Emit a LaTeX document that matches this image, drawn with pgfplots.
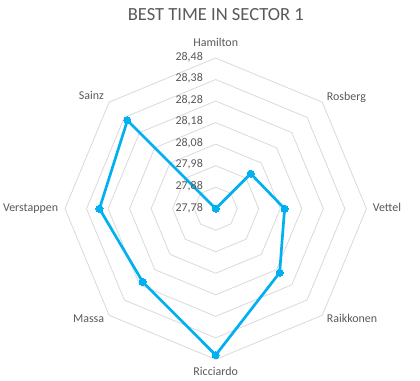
\documentclass[border=0pt]{standalone}
\usepackage{fontspec}
\setmainfont{Carlito}
\usepackage{pgfplots}
\usepackage{pgfplotstable}
\usepgfplotslibrary{polar}
\pgfplotsset{compat=1.18}
\definecolor{txt}{HTML}{595959}
\definecolor{gridc}{HTML}{D9D9D9}
\definecolor{linec}{HTML}{00B0F0}
\pgfplotstableread{
angle t name
90 27.78 Hamilton
45 28.01 Rosberg
0 28.10 Vettel
-45 28.20 Raikkonen
-90 28.46 Ricciardo
-135 28.26 Massa
-180 28.32 Verstappen
-225 28.36 Sainz
-270 27.78 Hamilton
}\datatable
\begin{document}
\begin{tikzpicture}[x=1bp,y=1bp]
\useasboundingbox (0,0) rectangle (420,381);
\begin{polaraxis}[
  at={(215.7bp,172.3bp)}, anchor=center,
  width=301.4bp, height=301.4bp, scale only axis,
  hide axis, clip=false,
  xmin=0, xmax=360, ymin=0, ymax=0.7,
]
\addplot[gridc, line width=0.8pt] coordinates {(90,0.1) (45,0.1) (0,0.1) (-45,0.1) (-90,0.1) (-135,0.1) (-180,0.1) (-225,0.1) (-270,0.1)};
\addplot[gridc, line width=0.8pt] coordinates {(90,0.2) (45,0.2) (0,0.2) (-45,0.2) (-90,0.2) (-135,0.2) (-180,0.2) (-225,0.2) (-270,0.2)};
\addplot[gridc, line width=0.8pt] coordinates {(90,0.3) (45,0.3) (0,0.3) (-45,0.3) (-90,0.3) (-135,0.3) (-180,0.3) (-225,0.3) (-270,0.3)};
\addplot[gridc, line width=0.8pt] coordinates {(90,0.4) (45,0.4) (0,0.4) (-45,0.4) (-90,0.4) (-135,0.4) (-180,0.4) (-225,0.4) (-270,0.4)};
\addplot[gridc, line width=0.8pt] coordinates {(90,0.5) (45,0.5) (0,0.5) (-45,0.5) (-90,0.5) (-135,0.5) (-180,0.5) (-225,0.5) (-270,0.5)};
\addplot[gridc, line width=0.8pt] coordinates {(90,0.6) (45,0.6) (0,0.6) (-45,0.6) (-90,0.6) (-135,0.6) (-180,0.6) (-225,0.6) (-270,0.6)};
\addplot[gridc, line width=0.8pt] coordinates {(90,0.7) (45,0.7) (0,0.7) (-45,0.7) (-90,0.7) (-135,0.7) (-180,0.7) (-225,0.7) (-270,0.7)};
\addplot[linec, line width=2.7pt, line join=round, mark=*, mark size=3.6pt, mark options={solid, fill=linec, draw=linec, line width=0pt}]
  table[x=angle, y expr=\thisrow{t}-27.78] {\datatable};
\end{polaraxis}
\begin{scope}[every node/.style={text=txt, inner sep=0pt, font=\fontsize{12}{14}\selectfont}]
\node[anchor=mid east] at (203, 381-58.0) {28,48};
\node[anchor=mid east] at (203, 381-79.5) {28,38};
\node[anchor=mid east] at (203, 381-101.0) {28,28};
\node[anchor=mid east] at (203, 381-122.6) {28,18};
\node[anchor=mid east] at (203, 381-144.1) {28,08};
\node[anchor=mid east] at (203, 381-165.6) {27,98};
\node[anchor=mid east] at (203, 381-187.1) {27,88};
\node[anchor=mid east] at (203, 381-208.7) {27,78};
\node[anchor=mid] at (215.7, 381-44) {Hamilton};
\node[anchor=mid west] at (326.7, 381-98.3) {Rosberg};
\node[anchor=mid west] at (372.7, 381-209.3) {Vettel};
\node[anchor=mid west] at (326.7, 381-320) {Raikkonen};
\node[anchor=mid] at (215.7, 381-373.3) {Ricciardo};
\node[anchor=mid east] at (104.3, 381-320) {Massa};
\node[anchor=mid east] at (58.3, 381-209.3) {Verstappen};
\node[anchor=mid east] at (104, 381-97.3) {Sainz};
\node[anchor=mid, font=\fontsize{18.6}{22}\selectfont] at (215.8, 381-18) {BEST TIME IN SECTOR 1};
\end{scope}
\end{tikzpicture}
\end{document}
